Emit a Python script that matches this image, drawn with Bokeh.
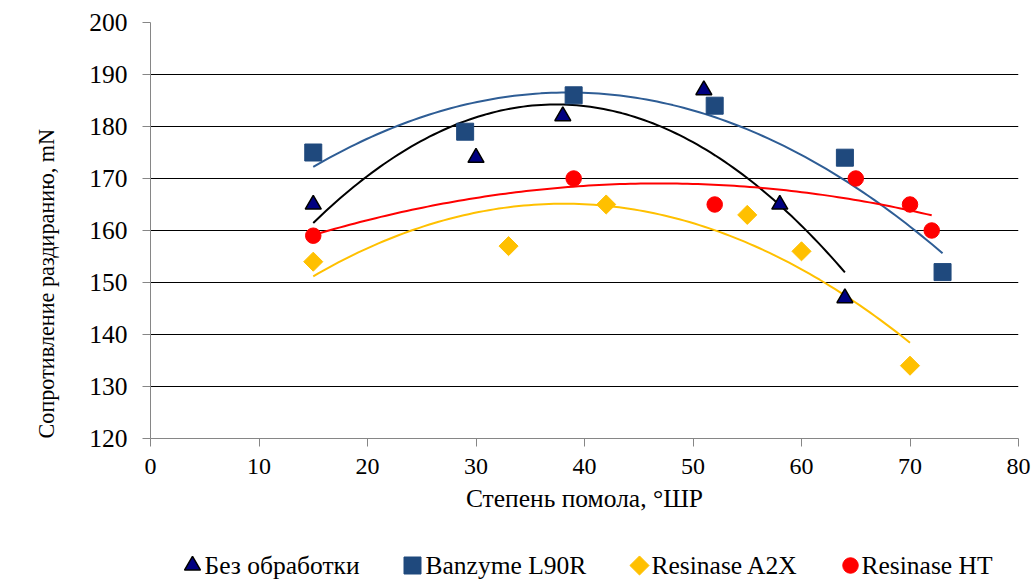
import numpy as np
from bokeh.plotting import figure
from bokeh.layouts import column
from bokeh.models import FixedTicker, Range1d, Title
from bokeh.core.properties import value
from bokeh.embed import file_html
from bokeh.resources import INLINE

# Freeness (°SR) and tear resistance (mN) for each treatment
x_none = [15, 30, 38, 51, 58, 64]
y_none = [165, 174, 182, 187, 165, 147]

x_banzyme = [15, 29, 39, 52, 64, 73]
y_banzyme = [175, 179, 186, 184, 174, 152]

x_a2x = [15, 33, 42, 55, 60, 70]
y_a2x = [154, 157, 165, 163, 156, 134]

x_ht = [15, 39, 52, 65, 70, 72]
y_ht = [159, 170, 165, 170, 165, 160]

series_names = ["Без обработки", "Banzyme L90R", "Resinase A2X", "Resinase HT"]

x_ticks = [0, 10, 20, 30, 40, 50, 60, 70, 80]
y_ticks = [120, 130, 140, 150, 160, 170, 180, 190, 200]

FONT = "Liberation Serif"

# marker styles shared by the chart and its legend strip
STYLES = [
    dict(marker="triangle", size=16, fill_color="#000080", line_color="black", line_width=1.5),
    dict(marker="square", size=17, fill_color="#1F497D", line_color="#1F497D"),
    dict(marker="square", size=13.5, angle=np.pi / 4, fill_color="#FFC000", line_color="#FFC000"),
    dict(marker="circle", size=15.5, fill_color="#FF0000", line_color="#FF0000"),
]
TREND_COLORS = ["black", "#2E5D95", "#FFC000", "#FF0000"]

BORDER_L, BORDER_R = 150, 17

p = figure(width=1035, height=530, output_backend="svg", toolbar_location=None,
           x_range=Range1d(0, 80), y_range=Range1d(120, 200),
           min_border_left=BORDER_L, min_border_right=BORDER_R, min_border_top=22,
           min_border_bottom=92)
p.outline_line_color = None
p.background_fill_color = "white"
p.border_fill_color = "white"

p.xgrid.grid_line_color = None
p.ygrid.grid_line_color = "black"
p.ygrid.grid_line_width = 1

xax = p.xaxis[0]
yax = p.yaxis[0]
xax.ticker = FixedTicker(ticks=x_ticks)
yax.ticker = FixedTicker(ticks=y_ticks)
for ax in (xax, yax):
    ax.minor_tick_line_color = None
    ax.major_tick_in = 0
    ax.major_tick_out = 8
    ax.axis_line_color = "#868686"
    ax.major_tick_line_color = "#868686"
    ax.major_label_text_font = FONT
    ax.major_label_text_color = "black"
    ax.axis_label_text_font = FONT
    ax.axis_label_text_font_style = "normal"
    ax.axis_label_text_color = "black"

xax.major_label_text_font_size = "24px"
yax.major_label_text_font_size = "25.5px"
xax.axis_label = "Степень помола, °ШР"
xax.axis_label_text_font_size = "25.5px"
xax.major_label_standoff = 12
xax.axis_label_standoff = 7
yax.major_label_standoff = 15

# vertical title, anchored at the bottom of the plot area, pushed to the outer edge
ytitle = Title(text="Сопротивление раздиранию, mN", align="left",
               vertical_align="top", text_font=FONT, text_font_size="22.2px",
               text_font_style="normal", text_color="black")
if "standoff" in Title.properties():
    ytitle.standoff = 52
p.add_layout(ytitle, "left")

series = [(x_none, y_none), (x_banzyme, y_banzyme), (x_a2x, y_a2x), (x_ht, y_ht)]

# second-order polynomial trendlines over each series' span
for (xs, ys), color in zip(series, TREND_COLORS):
    c = np.polyfit(xs, ys, 2)
    xx = np.linspace(min(xs), max(xs), 120)
    p.line(xx, np.polyval(c, xx), line_color=color, line_width=2)

for (xs, ys), style in zip(series, STYLES):
    p.scatter(xs, ys, **style)

# legend strip beneath the chart; its x range is expressed in page pixels
leg = figure(width=1035, height=50, output_backend="svg", toolbar_location=None,
             x_range=Range1d(BORDER_L, 1035 - BORDER_R), y_range=Range1d(0, 50),
             min_border_left=BORDER_L, min_border_right=BORDER_R,
             min_border_top=0, min_border_bottom=0)
leg.axis.visible = False
leg.grid.visible = False
leg.outline_line_color = None
leg.background_fill_color = "white"
leg.border_fill_color = "white"

marker_x = [192, 412, 639, 850]
label_x = [204, 425, 651, 861]
for mx, style in zip(marker_x, STYLES):
    leg.scatter([mx], [15], **style)
leg.text(x=label_x, y=[15.5] * 4, text=series_names,
         text_font=value(FONT), text_font_size="25.5px", text_color="black",
         text_baseline="middle", text_align="left")

open("out.html", "w").write(file_html(column(p, leg, spacing=0), INLINE))
